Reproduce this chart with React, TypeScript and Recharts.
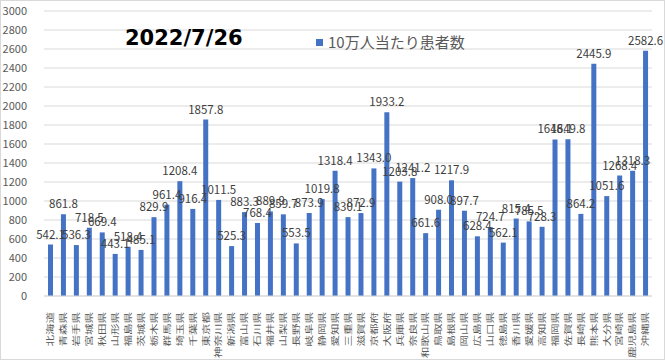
import { BarChart, Bar, XAxis, YAxis, CartesianGrid, LabelList } from 'recharts';

const prefectures = [
  '北海道', '青森県', '岩手県', '宮城県', '秋田県', '山形県', '福島県', '茨城県', '栃木県', '群馬県',
  '埼玉県', '千葉県', '東京都', '神奈川県', '新潟県', '富山県', '石川県', '福井県', '山梨県', '長野県',
  '岐阜県', '静岡県', '愛知県', '三重県', '滋賀県', '京都府', '大阪府', '兵庫県', '奈良県', '和歌山県',
  '鳥取県', '島根県', '岡山県', '広島県', '山口県', '徳島県', '香川県', '愛媛県', '高知県', '福岡県',
  '佐賀県', '長崎県', '熊本県', '大分県', '宮崎県', '鹿児島県', '沖縄県',
];

const casesPer100k = [
  542.1, 861.8, 536.3, 718.5, 669.4, 443.1, 518.4, 485.1, 829.9, 961.4,
  1208.4, 916.4, 1857.8, 1011.5, 525.3, 883.3, 768.4, 889.9, 859.7, 553.5,
  873.9, 1019.8, 1318.4, 830.1, 872.9, 1343.0, 1933.2, 1203.8, 1241.2, 661.6,
  908.0, 1217.9, 897.7, 628.4, 724.7, 562.1, 815.4, 785.5, 728.3, 1648.1,
  1649.8, 864.2, 2445.9, 1051.6, 1268.4, 1318.3, 2582.6,
];

const yTicks = [0, 200, 400, 600, 800, 1000, 1200, 1400, 1600, 1800, 2000, 2200, 2400, 2600, 2800, 3000];

const seriesName = '10万人当たり患者数';
const dateTitle = '2022/7/26';

const data = prefectures.map((name, i) => ({ name, value: casesPer100k[i] }));

const FONT = '"Noto Sans CJK JP", "Noto Sans", sans-serif';

// vertical prefecture names, reading bottom to top like the Excel export
const PrefTick = ({ x, y, payload }: any) => (
  <g transform={`translate(${x},${y + 8}) rotate(-90) scale(1,0.68)`}>
    <text x={0} y={0} dy="0.36em" textAnchor="end" fontSize={11.5} fill="#595959" fontFamily={FONT}>
      {payload.value}
    </text>
  </g>
);

export default function App() {
  return (
    <div
      style={{
        position: 'absolute',
        left: 0,
        top: 0,
        width: 665,
        height: 360,
        border: '1px solid #d9d9d9',
        boxSizing: 'border-box',
        background: '#fff',
        overflow: 'hidden',
      }}
    >
      <BarChart width={663} height={358} data={data} margin={{ top: 10, right: 12, bottom: 0, left: -1 }}>
        <CartesianGrid vertical={false} stroke="#d9d9d9" />
        <XAxis
          dataKey="name"
          interval={0}
          height={63}
          tick={<PrefTick />}
          tickLine={false}
          axisLine={{ stroke: '#d9d9d9' }}
        />
        <YAxis
          domain={[0, 3000]}
          ticks={yTicks}
          interval={0}
          width={44}
          axisLine={false}
          tickLine={false}
          tickMargin={11}
          tick={{ fontSize: 11, fill: '#595959', fontFamily: FONT }}
        />
        <Bar dataKey="value" fill="#4472C4" barSize={5} isAnimationActive={false}>
          <LabelList
            dataKey="value"
            position="top"
            offset={6}
            formatter={(v: any) => Number(v).toFixed(1)}
            style={{ fontSize: 11.5, fill: '#404040', fontFamily: FONT }}
          />
        </Bar>
      </BarChart>
      <div
        style={{
          position: 'absolute',
          left: 124,
          top: 24,
          fontFamily: '"DejaVu Sans", sans-serif',
          fontWeight: 'bold',
          fontSize: 21,
          color: '#000',
          lineHeight: '26px',
        }}
      >
        {dateTitle}
      </div>
      <div
        style={{
          position: 'absolute',
          left: 315,
          top: 31,
          display: 'flex',
          alignItems: 'center',
          fontFamily: FONT,
          fontSize: 15,
          color: '#595959',
          lineHeight: '20px',
        }}
      >
        <span style={{ width: 7, height: 7, background: '#4472C4', marginRight: 5, display: 'inline-block' }} />
        {seriesName}
      </div>
    </div>
  );
}
